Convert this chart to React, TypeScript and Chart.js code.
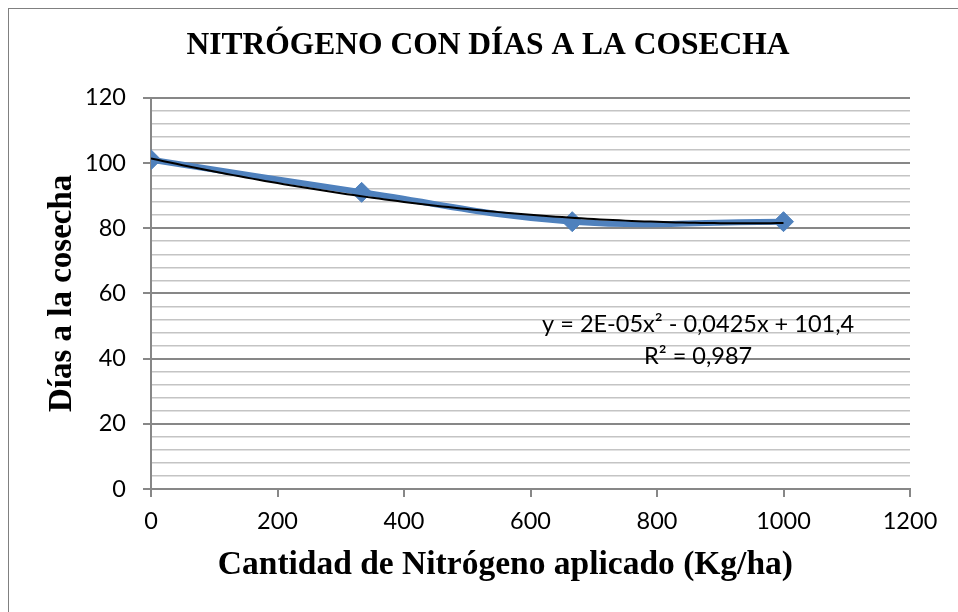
import React, { useEffect, useRef } from 'react';
import { Chart, registerables } from 'chart.js';

Chart.register(...registerables);

// ---- data ----
const nitrogenKgHa = [0, 333, 666, 1000];
const harvestDays = [101, 91, 82, 82];

const xMin = 0;
const xMax = 1200;
const xStep = 200;
const yMin = 0;
const yMax = 120;
const yMinorStep = 4;
const yMajorStep = 20;

const chartTitle = 'NITRÓGENO CON DÍAS A LA COSECHA';
const xAxisTitle = 'Cantidad de Nitrógeno aplicado (Kg/ha)';
const yAxisTitle = 'Días a la cosecha';
const equationLines = ['y = 2E-05x² - 0,0425x + 101,4', 'R² = 0,987'];
const equationAnchorX = 865;
const equationAnchorY = [50.6, 40.8];

// least-squares quadratic fit (Excel polynomial trendline, order 2)
function quadFit(xs: number[], ys: number[]): [number, number, number] {
  const S = [0, 0, 0, 0, 0];
  const T = [0, 0, 0];
  for (let i = 0; i < xs.length; i++) {
    let p = 1;
    for (let k = 0; k < 5; k++) {
      S[k] += p;
      if (k < 3) T[k] += p * ys[i];
      p *= xs[i];
    }
  }
  const M = [
    [S[0], S[1], S[2], T[0]],
    [S[1], S[2], S[3], T[1]],
    [S[2], S[3], S[4], T[2]],
  ];
  for (let c = 0; c < 3; c++) {
    for (let r = c + 1; r < 3; r++) {
      const f = M[r][c] / M[c][c];
      for (let k = c; k < 4; k++) M[r][k] -= f * M[c][k];
    }
  }
  const sol = [0, 0, 0];
  for (let r = 2; r >= 0; r--) {
    let s = M[r][3];
    for (let k = r + 1; k < 3; k++) s -= M[r][k] * sol[k];
    sol[r] = s / M[r][r];
  }
  return [sol[0], sol[1], sol[2]];
}

const LABEL_FONT = 'Lato';
const LABEL_SIZE = 23.5;
const TITLE_FONT = 'Liberation Serif';
const MAJOR = '#878787';
const MINOR = '#c4c4c4';
const BLUE = '#4F81BD';

export default function App() {
  const canvasRef = useRef<HTMLCanvasElement | null>(null);

  useEffect(() => {
    let chart: Chart | null = null;
    let cancelled = false;

    const build = () => {
      if (cancelled || !canvasRef.current) return;
      const [a, b, c] = quadFit(nitrogenKgHa, harvestDays);
      const x0 = Math.min(...nitrogenKgHa);
      const x1 = Math.max(...nitrogenKgHa);
      const trend: { x: number; y: number }[] = [];
      const n = 100;
      for (let i = 0; i <= n; i++) {
        const x = x0 + ((x1 - x0) * i) / n;
        trend.push({ x, y: a + b * x + c * x * x });
      }
      const points = nitrogenKgHa.map((x, i) => ({ x, y: harvestDays[i] }));

      const isMajor = (ctx: any) =>
        ctx && ctx.tick && Math.abs(ctx.tick.value % yMajorStep) < 1e-9;

      const equationPlugin = {
        id: 'equationLabel',
        afterDatasetsDraw(ch: any) {
          const { ctx, scales } = ch;
          ctx.save();
          ctx.font = `${LABEL_SIZE}px ${LABEL_FONT}`;
          ctx.fillStyle = '#000';
          ctx.textAlign = 'center';
          ctx.textBaseline = 'middle';
          equationLines.forEach((line, i) => {
            ctx.fillText(
              line,
              scales.x.getPixelForValue(equationAnchorX),
              scales.y.getPixelForValue(equationAnchorY[i])
            );
          });
          ctx.restore();
        },
      };

      chart = new Chart(canvasRef.current, {
        type: 'scatter',
        data: {
          datasets: [
            {
              label: 'Polinómica',
              data: trend,
              showLine: true,
              borderColor: '#000',
              borderWidth: 2,
              pointRadius: 0,
              tension: 0,
              order: 0,
            },
            {
              label: 'Días a la cosecha',
              data: points,
              showLine: true,
              borderColor: BLUE,
              backgroundColor: BLUE,
              borderWidth: 6,
              pointStyle: 'rectRot',
              pointRadius: 10,
              pointBorderColor: BLUE,
              pointBackgroundColor: BLUE,
              pointBorderWidth: 1,
              tension: 0.4,
              order: 1,
            },
          ],
        },
        options: {
          responsive: false,
          animation: false,
          layout: { padding: { left: 9, right: 0, top: 0, bottom: 0 } },
          plugins: {
            legend: { display: false },
            tooltip: { enabled: false },
            title: {
              display: true,
              text: chartTitle,
              color: '#000',
              font: { family: TITLE_FONT, size: 31.5, weight: 'bold' },
              padding: { top: 18, bottom: 33 },
            },
          },
          scales: {
            x: {
              type: 'linear',
              min: xMin,
              max: xMax,
              ticks: {
                stepSize: xStep,
                autoSkip: false,
                maxRotation: 0,
                padding: 10,
                color: '#000',
                font: { family: LABEL_FONT, size: LABEL_SIZE },
                callback: (v: any) => String(v),
              },
              grid: {
                drawOnChartArea: false,
                drawTicks: true,
                tickLength: 8,
                color: MAJOR,
                lineWidth: 2,
              },
              border: { color: MAJOR, width: 2 },
              title: {
                display: true,
                text: xAxisTitle + '\u00A0'.repeat(6),
                color: '#000',
                font: { family: TITLE_FONT, size: 33.5, weight: 'bold' },
                padding: { top: 0, bottom: 27 },
              },
              afterFit: (s: any) => {
                s.height = 123;
                s.paddingRight = 48;
              },
            },
            y: {
              type: 'linear',
              min: yMin,
              max: yMax,
              ticks: {
                stepSize: yMinorStep,
                autoSkip: false,
                padding: 17,
                color: '#000',
                font: { family: LABEL_FONT, size: LABEL_SIZE },
                callback: (v: any) => (Math.abs(Number(v) % yMajorStep) < 1e-9 ? String(v) : ''),
              },
              grid: {
                drawTicks: true,
                tickLength: 8,
                color: (ctx: any) => (isMajor(ctx) ? MAJOR : MINOR),
                lineWidth: (ctx: any) => (isMajor(ctx) ? 2 : 1.5),
                tickColor: (ctx: any) => (isMajor(ctx) ? MAJOR : 'rgba(0,0,0,0)'),
              },
              border: { color: MAJOR, width: 2 },
              title: {
                display: true,
                text: yAxisTitle,
                color: '#000',
                font: { family: TITLE_FONT, size: 33, weight: 'bold' },
                padding: { top: 25, bottom: 0 },
              },
              afterFit: (s: any) => {
                s.width = 133;
              },
            },
          },
        },
        plugins: [equationPlugin],
      } as any);
    };

    const fontsReady = (document as any).fonts
      ? Promise.all([
          (document as any).fonts.load(`${LABEL_SIZE}px ${LABEL_FONT}`),
          (document as any).fonts.load(`bold 33px "${TITLE_FONT}"`),
        ]).catch(() => null)
      : Promise.resolve(null);
    fontsReady.then(build);

    return () => {
      cancelled = true;
      if (chart) chart.destroy();
    };
  }, []);

  return (
    <div
      style={{
        position: 'absolute',
        left: 8,
        top: 8,
        width: 950,
        height: 604,
        boxSizing: 'border-box',
        borderLeft: '1px solid #808080',
        borderTop: '1px solid #808080',
        background: '#fff',
        overflow: 'hidden',
      }}
    >
      <canvas ref={canvasRef} width={949} height={603} style={{ display: 'block' }} />
    </div>
  );
}
